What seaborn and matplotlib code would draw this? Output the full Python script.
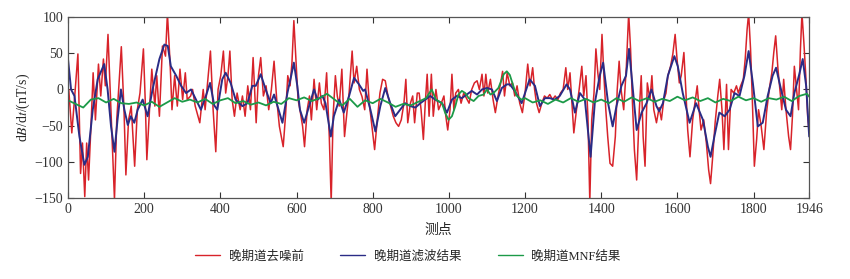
import numpy as np
import pandas as pd
import matplotlib
matplotlib.use("Agg")
import matplotlib.pyplot as plt
import seaborn as sns

red_pts = [(2, 0), (10, -60), (19, 0), (26, 49), (33, -116), (38, -74), (44, -148), (49, -74), (54, -125), (61, -42),
           (66, 23), (72, -42), (80, 35), (86, -9), (93, 42), (98, 5), (105, 76), (112, -19), (117, -83), (122, -152),
           (128, -42), (133, 0), (140, 59), (147, -28), (152, -118), (159, -42), (166, -23), (175, -106), (182, -28),
           (189, -5), (198, 56), (203, -19), (207, -97), (214, -28), (220, 28), (228, -23), (233, 19), (240, -37),
           (248, 60), (256, 46), (261, 105), (268, 37), (273, -28), (280, 19), (287, -23), (294, 28), (301, -14),
           (308, 23), (313, -14), (322, -9), (327, 0), (334, -23), (346, -46), (355, 0), (360, -28), (374, 53),
           (381, -28), (388, -86), (394, 0), (401, 19), (408, 53), (414, -5), (420, 19), (425, 53), (431, -14),
           (437, -37), (444, -5), (452, -28), (458, -9), (465, -37), (472, 5), (479, -28), (486, 44), (494, -46),
           (500, 19), (506, 44), (513, -9), (520, 5), (527, -28), (534, 0), (541, 39), (548, -14), (555, -51),
           (560, -65), (565, -79), (571, -37), (577, 19), (583, 5), (588, 37), (593, 95), (599, 37), (604, -14),
           (609, -28), (616, -51), (621, -79), (628, -28), (634, -9), (639, -42), (646, 14), (653, -28), (660, 9),
           (665, -19), (672, -28), (679, 23), (686, -65), (691, -155), (696, -37), (702, 19), (707, -9), (712, -23),
           (719, 28), (726, -65), (733, -28), (738, -5), (746, 53), (751, 9), (758, 32), (765, 0), (772, -10),
           (779, -28), (785, 28), (791, -19), (798, -51), (805, -83), (812, -42), (819, -5), (826, 14), (833, 12),
           (840, -9), (847, -23), (854, -37), (861, -46), (868, -51), (875, -42), (882, -19), (887, 14), (892, -46),
           (899, -19), (905, -9), (910, -46), (917, -5), (922, -5), (927, -28), (933, -69), (938, -19), (943, 21),
           (948, -37), (954, 21), (959, -37), (966, 0), (973, -28), (980, -19), (987, -9), (992, -37), (997, -56),
           (1003, -28), (1008, 21), (1013, -28), (1018, -5), (1025, 0), (1032, -19), (1039, -5), (1046, -12),
           (1053, -19), (1060, 0), (1067, 9), (1074, 12), (1080, 0), (1087, 21), (1092, -9), (1097, 21), (1102, -5),
           (1109, 14), (1116, -14), (1122, -32), (1129, -9), (1136, 9), (1141, 25), (1146, -9), (1153, 23),
           (1160, 5), (1167, 9), (1173, -9), (1179, 5), (1186, -19), (1193, -32), (1200, -5), (1207, 35), (1213, 5),
           (1220, 30), (1225, 0), (1230, -19), (1237, -32), (1244, -19), (1251, -9), (1258, -12), (1265, -7),
           (1272, -14), (1279, -9), (1286, -14), (1293, -5), (1300, 0), (1307, 30), (1312, 0), (1318, 23),
           (1323, -19), (1328, -60), (1335, -28), (1342, 0), (1349, 32), (1354, -9), (1360, 19), (1365, -37),
           (1370, -155), (1375, -42), (1381, -5), (1386, 56), (1391, 23), (1396, 0), (1402, 76), (1407, 19),
           (1412, -28), (1417, -65), (1423, -102), (1430, -106), (1437, -65), (1442, 0), (1447, 39), (1452, 0),
           (1459, -28), (1466, 32), (1472, 105), (1477, 56), (1482, -19), (1487, -83), (1493, -125), (1500, -28),
           (1505, 19), (1510, -65), (1515, -106), (1521, 9), (1528, -14), (1533, 19), (1538, -28), (1545, -46),
           (1552, -25), (1558, -42), (1564, -15), (1570, -5), (1575, 19), (1582, 32), (1588, 49), (1594, 76),
           (1599, 42), (1605, 9), (1610, 19), (1617, 51), (1622, 0), (1627, -56), (1633, -93), (1640, -42),
           (1647, -14), (1652, 5), (1657, -28), (1662, -56), (1669, -42), (1676, -74), (1682, -111), (1687, -130),
           (1692, -97), (1699, -46), (1706, -9), (1711, 14), (1717, -28), (1722, -83), (1729, 7), (1734, -83),
           (1741, 0), (1748, -5), (1755, 5), (1760, -5), (1766, 5), (1773, 14), (1778, 42), (1783, 83), (1787, 105),
           (1792, 56), (1797, -19), (1802, -106), (1808, -69), (1813, -28), (1820, -51), (1827, -83), (1834, -32),
           (1841, 0), (1848, 23), (1853, 51), (1858, 74), (1864, 28), (1869, 0), (1874, -28), (1879, 14),
           (1885, -28), (1892, -65), (1897, -83), (1902, -37), (1907, 32), (1913, 0), (1918, -28), (1923, 56),
           (1927, 105), (1932, 65), (1937, 19), (1942, -37), (1946, -60)]

navy_pts = [(0, 42), (8, 0), (17, -9), (30, -65), (43, -104), (52, -93), (65, -28), (78, 14), (95, 35), (104, 0),
            (113, -51), (122, -86), (130, -42), (139, 0), (148, -28), (157, -49), (165, -37), (174, -46), (183, -28),
            (196, -14), (209, -37), (222, 0), (240, 42), (253, 62), (262, 60), (270, 32), (284, 19), (297, 5),
            (310, -5), (323, 0), (336, -14), (349, -28), (362, -9), (373, 9), (384, -22), (392, -28), (405, 14),
            (414, 23), (427, 9), (440, -14), (458, -23), (471, -19), (484, 5), (493, 5), (506, 21), (519, 0),
            (532, -19), (541, -7), (550, -23), (563, -46), (576, -5), (586, 19), (593, 37), (602, 5), (609, -28),
            (620, -46), (633, -23), (646, 0), (655, -14), (668, -9), (676, -19), (690, -65), (698, -37), (712, -14),
            (724, -32), (738, -9), (751, 16), (764, 7), (775, -2), (780, 0), (794, -28), (807, -58), (820, -23),
            (833, 2), (846, -19), (859, -37), (872, -28), (885, -19), (899, -23), (912, -25), (925, -19), (938, -14),
            (951, -9), (964, -14), (982, -19), (995, -32), (1008, -14), (1021, -9), (1034, -12), (1047, -7),
            (1060, -2), (1074, -7), (1087, 0), (1100, 2), (1113, 0), (1126, -16), (1139, 2), (1152, 7), (1160, 7),
            (1173, -2), (1191, -19), (1212, 14), (1226, 5), (1239, -23), (1252, -12), (1265, -12), (1278, -14),
            (1291, -9), (1309, 7), (1318, 0), (1331, -32), (1344, -5), (1357, -14), (1372, -93), (1383, -19),
            (1396, 19), (1405, 37), (1418, -19), (1430, -51), (1440, -23), (1453, 5), (1465, 19), (1473, 56),
            (1482, 5), (1493, -56), (1506, -32), (1519, -19), (1532, 0), (1545, -23), (1552, -30), (1562, -19),
            (1575, 19), (1592, 46), (1601, 32), (1614, -5), (1632, -46), (1649, -19), (1667, -42), (1680, -79),
            (1687, -93), (1697, -65), (1710, -32), (1724, -37), (1737, -28), (1750, -5), (1763, -9), (1776, 19),
            (1787, 53), (1798, 9), (1811, -51), (1824, -46), (1837, -9), (1850, 19), (1859, 30), (1872, 0),
            (1885, -28), (1897, -37), (1907, -5), (1920, 21), (1929, 42), (1938, 5), (1946, -65)]

green_pts = [(0, -15), (20, -20), (40, -25), (60, -14), (80, -12), (100, -18), (120, -13), (140, -19), (160, -20),
             (180, -18), (200, -22), (220, -17), (240, -24), (260, -18), (280, -12), (300, -17), (320, -14),
             (340, -18), (360, -13), (380, -20), (400, -15), (420, -12), (440, -19), (460, -16), (480, -21),
             (500, -18), (520, -22), (540, -17), (560, -20), (580, -12), (600, -15), (620, -11), (640, -16),
             (660, -12), (680, -6), (700, -14), (720, -22), (740, -13), (760, -24), (780, -15), (800, -19),
             (820, -13), (840, -18), (860, -24), (880, -20), (900, -22), (920, -17), (940, -12), (955, 0), (966, -14),
             (982, -19), (990, -32), (999, -42), (1008, -37), (1017, -23), (1025, -7), (1034, -2), (1043, -5),
             (1052, -12), (1065, -16), (1078, -9), (1091, -7), (1100, 0), (1109, -7), (1117, -5), (1130, 2),
             (1144, 21), (1152, 25), (1160, 20), (1177, -8), (1190, -14), (1200, -12), (1220, -18), (1240, -15),
             (1260, -20), (1280, -14), (1300, -18), (1320, -12), (1340, -17), (1360, -13), (1380, -18), (1400, -14),
             (1420, -19), (1440, -12), (1460, -17), (1480, -11), (1500, -16), (1520, -12), (1540, -17), (1560, -13),
             (1580, -16), (1600, -10), (1620, -15), (1640, -11), (1660, -16), (1680, -12), (1700, -18), (1720, -13),
             (1740, -16), (1760, -10), (1780, -15), (1800, -12), (1820, -17), (1840, -12), (1860, -14), (1880, -10),
             (1900, -16), (1920, -9), (1940, -6), (1946, -10)]

labels = ["晚期道去噪前", "晚期道滤波结果", "晚期道MNF结果"]
colours = ["#d8232a", "#2a2c86", "#1c9a48"]
x_ticks = [0, 200, 400, 600, 800, 1000, 1200, 1400, 1600, 1800, 1946]
y_ticks = [-150, -100, -50, 0, 50, 100]

frames = []
for name, pts in zip(labels, [red_pts, navy_pts, green_pts]):
    d = pd.DataFrame(pts, columns=["point", "value"])
    d["series"] = name
    frames.append(d)
df = pd.concat(frames, ignore_index=True)

sns.set_theme(style="ticks")
plt.rcParams["font.family"] = ["Liberation Serif", "Noto Sans CJK SC"]
plt.rcParams["mathtext.fontset"] = "stix"

fig, ax = plt.subplots(figsize=(8.5, 2.79), dpi=100)
fig.subplots_adjust(left=0.08, right=0.952, top=0.939, bottom=0.29)

widths = [1.1, 1.4, 1.3]
for name, col, lw in zip(labels, colours, widths):
    sns.lineplot(data=df[df["series"] == name], x="point", y="value", color=col,
                 linewidth=lw, estimator=None, sort=False, ax=ax, label=name)

ax.set_xlim(0, 1946)
ax.set_ylim(-150, 100)
ax.set_xticks(x_ticks)
ax.set_yticks(y_ticks)
ax.set_xticklabels([str(t) for t in x_ticks])
ax.set_yticklabels([str(t).replace("-", "\u2212") for t in y_ticks])
ax.tick_params(direction="in", top=True, right=True, length=4, width=0.8, labelsize=10, colors="#333333")
for s in ax.spines.values():
    s.set_color("#555555")
    s.set_linewidth(0.9)

ax.set_xlabel("测点", fontsize=10, labelpad=5, family=["Noto Sans CJK SC"])
ax.set_ylabel(r"d$B$/d$t$/(nT/s)", fontsize=10, labelpad=2)

leg = ax.legend(loc="center", bbox_to_anchor=(0.48, 0.08), bbox_transform=fig.transFigure, ncol=3,
                frameon=False, fontsize=9, handlelength=2.0, columnspacing=2.9, handletextpad=0.7)
for line in leg.get_lines():
    line.set_linewidth(1.0)

fig.savefig("out.png", dpi=100)
